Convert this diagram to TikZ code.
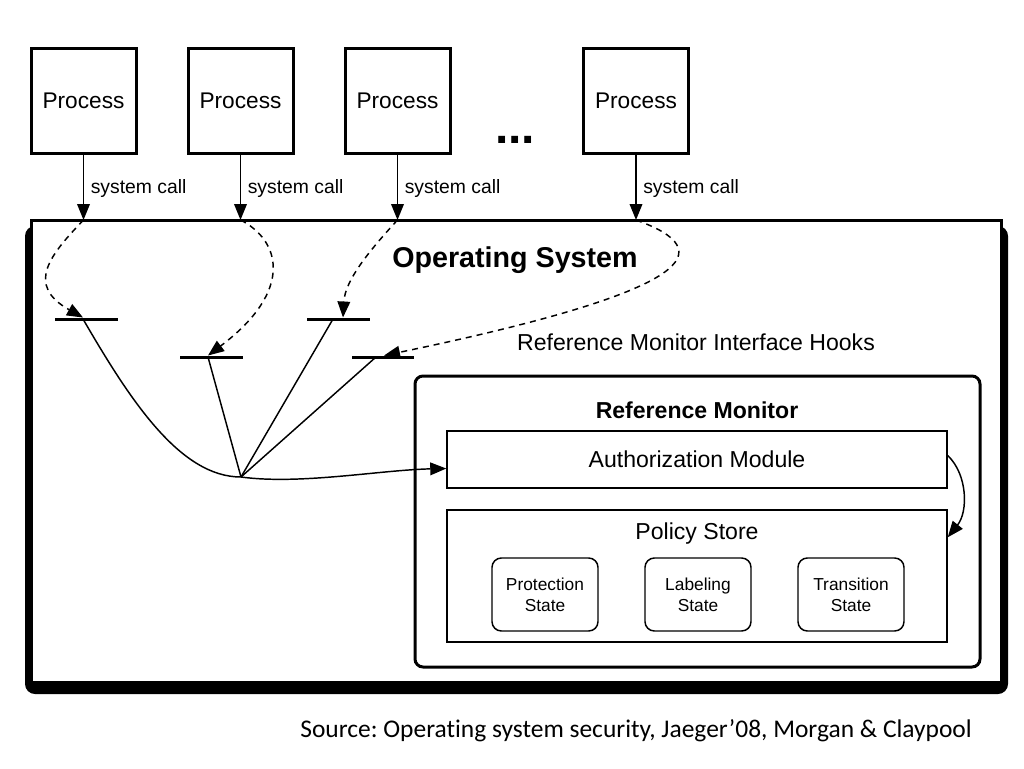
\documentclass[tikz,border=0pt]{standalone}
\usepackage{fontspec}
\setmainfont{Liberation Sans}
\newfontfamily\srcfont{Carlito}[Ligatures=NoCommon]
\usetikzlibrary{arrows.meta,calc}
\begin{document}
\frenchspacing
\begin{tikzpicture}[x=0.75pt,y=-0.75pt,
  proc/.style={draw,line width=2.25pt,minimum width=78.75pt,minimum height=78.75pt,inner sep=0pt,font=\fontsize{17}{20}\selectfont},
  lbl/.style={font=\fontsize{14.5}{17}\selectfont,anchor=west,inner sep=0pt},
  tip/.style={-{Triangle[length=12pt,width=9.5pt]}},
  call/.style={line width=1.1pt,tip},
  dcall/.style={line width=1.1pt,dash pattern=on 4.5pt off 3.75pt,tip},
  hookbar/.style={line width=2.25pt},
  conn/.style={line width=1.1pt},
  rmbox/.style={draw,line width=2.25pt,rounded corners=6pt,minimum width=423.75pt,minimum height=218.25pt,inner sep=0pt},
  modbox/.style={draw,line width=1.1pt,minimum width=375pt,inner sep=0pt},
  statebox/.style={draw,line width=1.1pt,rounded corners=7pt,minimum width=79.5pt,minimum height=54.75pt,inner sep=0pt,align=center,font=\fontsize{13}{16}\selectfont},
  big/.style={font=\fontsize{17.3}{20}\selectfont,inner sep=0pt}
]
\useasboundingbox (0,0) rectangle (1024,768);
\fill[white] (0,0) rectangle (1024,768);

% Operating system box with shadow
\fill[black,rounded corners=7.5pt] (25,226) rectangle (1008,694);
\fill[white] (33,222) rectangle (1000,681);
\draw[line width=2.25pt] (31.5,229) -- (31.5,220) -- (1001.5,220) -- (1001.5,229);
\coordinate (ostop) at (0,220);

% Processes
\node[proc] (p1) at (83.5,100.5) {Process};
\node[proc] (p2) at (240.5,100.5) {Process};
\node[proc] (p3) at (397.5,100.5) {Process};
\node[proc] (p4) at (636,100.5) {Process};
\node[font=\fontsize{36}{40}\bfseries\selectfont,inner sep=0pt,anchor=base] (dots) at (515,143) {...};

% system calls
\foreach \p in {p1,p2,p3,p4}{
  \draw[call] (\p.south) -- (\p.south |- ostop);
  \node[lbl] at ($(\p.south)+(7,34)$) {system call};
}

\node[font=\fontsize{21.5}{25}\bfseries\selectfont,inner sep=0pt] (os) at (515,260) {Operating System};
\node[big] (rmih) at (696,342) {Reference Monitor Interface Hooks};

% hooks
\coordinate (h1) at (83,319);
\coordinate (h2) at (208,357);
\coordinate (h3) at (333,319);
\coordinate (h4) at (376,357);
\draw[hookbar] (55,319) -- (118,319);
\draw[hookbar] (180,357) -- (243,357);
\draw[hookbar] (307,319) -- (370,319);
\draw[hookbar] (352,357) -- (414,357);

% dashed calls into hooks
\draw[dcall] (p1.south |- ostop) .. controls (50,255) and (25,285) .. ($(h1)+(0,-1.5)$);
\draw[dcall] (p2.south |- ostop) .. controls (280,240) and (295,290) .. ($(h2)+(0,-1.5)$);
\draw[dcall] (p3.south |- ostop) .. controls (370,250) and (345,280) .. ($(h3)+(10,-1.5)$);
\draw[dcall] (p4.south |- ostop) .. controls (720,250) and (700,290) .. ($(h4)+(8,-1.5)$);

% Reference monitor
\node[rmbox] (rm) at (697.5,521.5) {};
\node[font=\fontsize{17.3}{20}\bfseries\selectfont,inner sep=0pt] (rmt) at (697,410) {Reference Monitor};
\node[modbox,minimum height=42.75pt,big] (auth) at (697,459.5) {Authorization Module};
\node[modbox,minimum height=99pt] (ps) at (697,576) {};
\node[big] (pst) at (697,534) {Policy Store};
\node[statebox] (s1) at (545,594.5) {Protection\\State};
\node[statebox] (s2) at (698,594.5) {Labeling\\State};
\node[statebox] (s3) at (851,594.5) {Transition\\State};

% converging connectors
\coordinate (cv) at (241,477);
\draw[conn] (h2) -- (cv);
\draw[conn] (h3) -- (cv);
\draw[conn] (h4) -- (cv);
\draw[conn,tip] (h1) .. controls (130,400) and (180,477) .. (cv) .. controls (300,485) and (380,470) .. ($(auth.west)+(0,9)$);

% auth -> policy store
\draw[conn,tip] ($(auth.east)+(0,-4)$) .. controls (968,475) and (968,512) .. ($(ps.north east)+(0,28)$);

% source
\node[font=\srcfont\fontsize{19.1}{23}\selectfont,inner sep=0pt] (src) at (636,731) {Source: Operating system security, Jaeger’08, Morgan \& Claypool};
\end{tikzpicture}
\end{document}
